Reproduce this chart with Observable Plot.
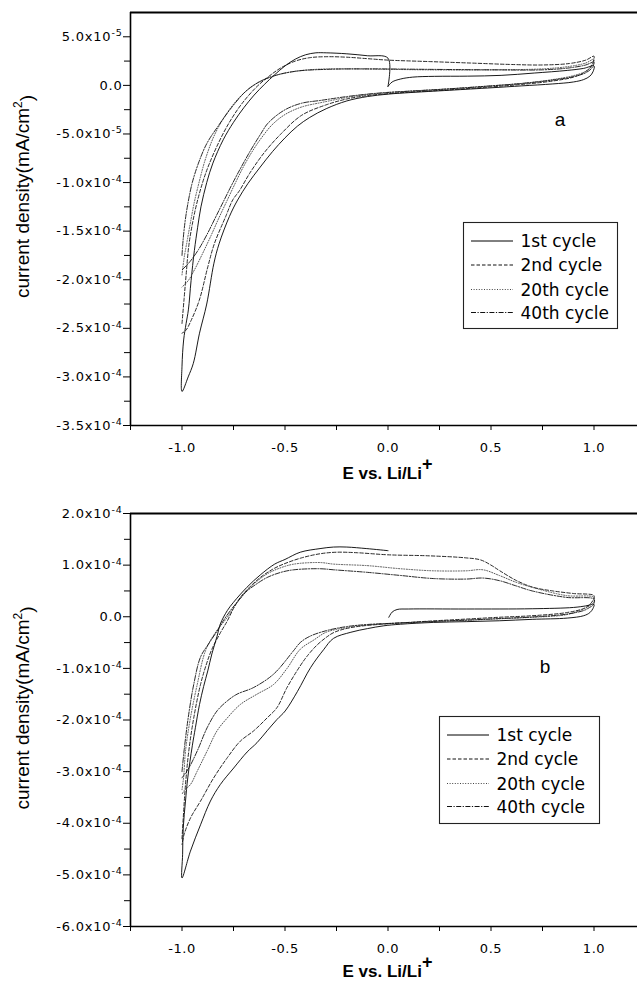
<!DOCTYPE html>
<html><head><meta charset="utf-8">
<script src="https://cdn.jsdelivr.net/npm/d3@7"></script>
<script src="https://cdn.jsdelivr.net/npm/@observablehq/plot@0.6"></script>
<style>
html,body{margin:0;padding:0;overflow:hidden;background:#fff;}
#page{position:relative;width:637px;height:983px;overflow:hidden;background:#fff;}
#page > svg{display:block;max-width:none !important;}
</style></head><body><div id="page"></div>
<script>
// ---------- data (current in units of 1e-5 mA/cm^2, potential in V vs Li/Li+) ----------
const E_DOMAIN = [-1.25, 1.25];
const E_TICKS = [-1.0, -0.5, 0.0, 0.5, 1.0];
const E_MINOR = [-1.25, -0.75, -0.25, 0.25, 0.75, 1.25];

const A_I_DOMAIN = [-35, 7.5];
const A_I_TICKS = [-35, -30, -25, -20, -15, -10, -5, 0, 5];
const A_I_MINOR = [-32.5, -27.5, -22.5, -17.5, -12.5, -7.5, -2.5, 2.5];

const B_I_DOMAIN = [-60, 20];
const B_I_TICKS = [-60, -50, -40, -30, -20, -10, 0, 10, 20];
const B_I_MINOR = [-55, -45, -35, -25, -15, -5, 5, 15];

const CYCLES = ["1st cycle", "2nd cycle", "20th cycle", "40th cycle"];

// panel a
const a_cycle1 = [[0.0,-0.1],[0.02,0.35],[0.06,0.65],[0.12,0.85],[0.225,0.93],[0.387,0.95],[0.549,1.03],[0.71,1.27],[0.87,1.54],[0.95,1.75],[1.0,2.0],
 [0.995,1.4],[0.98,0.95],[0.95,0.6],[0.9,0.35],[0.8,0.15],[0.65,-0.05],[0.5,-0.25],[0.3,-0.5],[0.1,-0.75],[0.0,-0.9],[-0.1,-1.15],[-0.2,-1.6],[-0.3,-2.4],[-0.38,-3.3],[-0.44,-4.2],[-0.5,-5.4],[-0.56,-6.8],[-0.62,-8.4],[-0.68,-10.1],[-0.73,-11.8],[-0.77,-13.5],[-0.82,-16.3],[-0.845,-18.3],[-0.88,-22.5],[-0.915,-25.5],[-0.945,-28.6],[-0.97,-30.0],[-1.0,-31.5],
 [-1.0,-28.9],[-0.992,-26.2],[-0.98,-24.5],[-0.969,-23.1],[-0.956,-20.1],[-0.94,-17.0],[-0.924,-14.6],[-0.908,-12.5],[-0.88,-10.0],[-0.85,-8.0],[-0.8,-5.6],[-0.75,-3.8],[-0.7,-2.3],[-0.65,-1.0],[-0.6,0.1],[-0.55,1.1],[-0.5,2.0],[-0.45,2.7],[-0.4,3.15],[-0.35,3.35],[-0.3,3.35],[-0.2,3.25],[-0.1,3.05],[0.0,2.8],[0.0,-0.1]];
const a_cycle2 = [[-1.0,-24.5],[-0.99,-22],[-0.98,-19.5],[-0.967,-16.5],[-0.95,-14.3],[-0.93,-12.3],[-0.9,-10],[-0.87,-8.2],[-0.82,-5.8],[-0.77,-3.8],[-0.71,-1.9],[-0.64,-0.2],[-0.58,0.9],[-0.52,1.8],[-0.45,2.5],[-0.38,2.85],[-0.3,2.95],[-0.2,2.9],[-0.1,2.75],[0.0,2.6],[0.2,2.45],[0.4,2.3],[0.6,2.15],[0.75,2.1],[0.88,2.25],[0.96,2.6],[1.0,3.0],
 [0.995,2.4],[0.98,1.8],[0.95,1.3],[0.9,0.85],[0.8,0.45],[0.65,0.1],[0.5,-0.15],[0.3,-0.45],[0.1,-0.7],[0.0,-0.85],[-0.1,-1.05],[-0.2,-1.4],[-0.3,-2.0],[-0.42,-3.09],[-0.52,-5.0],[-0.6,-6.9],[-0.67,-9.0],[-0.72,-10.8],[-0.754,-11.8],[-0.786,-13.4],[-0.843,-16.3],[-0.875,-18.7],[-0.916,-22.1],[-0.956,-24.2],[-0.981,-25.2],[-1.0,-25.5]];
const a_cycle20 = [[-1.0,-19.5],[-0.99,-17.8],[-0.975,-16.0],[-0.958,-14.0],[-0.94,-12.0],[-0.915,-9.8],[-0.885,-7.5],[-0.84,-5.0],[-0.78,-2.8],[-0.71,-1.0],[-0.63,0.3],[-0.55,1.0],[-0.45,1.45],[-0.35,1.65],[-0.2,1.7],[0.0,1.65],[0.2,1.6],[0.5,1.6],[0.75,1.7],[0.88,1.95],[0.96,2.3],[1.0,2.7],
 [0.99,2.0],[0.96,1.45],[0.9,1.0],[0.8,0.6],[0.65,0.2],[0.5,-0.05],[0.3,-0.35],[0.1,-0.6],[0.0,-0.75],[-0.1,-0.95],[-0.2,-1.25],[-0.32,-1.75],[-0.42,-2.23],[-0.5,-3.0],[-0.56,-4.0],[-0.6,-5.0],[-0.65,-6.5],[-0.7,-8.3],[-0.74,-10.0],[-0.78,-11.8],[-0.82,-13.6],[-0.86,-15.5],[-0.9,-17.3],[-0.94,-19.0],[-0.97,-20.1],[-1.0,-20.75]];
const a_cycle40 = [[-1.0,-17.5],[-0.995,-16],[-0.985,-14],[-0.97,-12],[-0.95,-10],[-0.92,-8],[-0.88,-6],[-0.825,-4.2],[-0.76,-2.3],[-0.69,-0.6],[-0.63,0.3],[-0.55,1.0],[-0.45,1.45],[-0.3,1.65],[-0.1,1.7],[0.2,1.65],[0.5,1.6],[0.75,1.6],[0.88,1.8],[0.96,2.1],[1.0,2.4],
 [0.99,1.8],[0.96,1.3],[0.9,0.9],[0.8,0.55],[0.65,0.2],[0.5,-0.05],[0.3,-0.35],[0.1,-0.6],[0.0,-0.72],[-0.1,-0.9],[-0.2,-1.15],[-0.325,-1.54],[-0.422,-1.85],[-0.505,-2.57],[-0.583,-3.9],[-0.617,-4.97],[-0.67,-6.8],[-0.72,-8.7],[-0.76,-10.3],[-0.8,-12.0],[-0.84,-13.7],[-0.88,-15.4],[-0.92,-16.9],[-0.96,-18.1],[-1.0,-19.0]];

// panel b
const b_cycle1 = [[0.004,-0.1],[0.02,0.9],[0.044,1.4],[0.1,1.5],[0.38,1.5],[0.7,1.55],[0.9,1.8],[0.96,2.1],[1.0,2.4],
 [0.995,1.6],[0.98,0.8],[0.95,0.2],[0.87,-0.26],[0.7,-0.5],[0.54,-0.78],[0.38,-0.95],[0.22,-1.1],[0.06,-1.45],[-0.02,-1.75],[-0.1,-2.3],[-0.18,-3.0],[-0.265,-4.2],[-0.313,-6.4],[-0.375,-9.8],[-0.44,-14.5],[-0.499,-18.25],[-0.539,-19.9],[-0.587,-22.1],[-0.636,-24.4],[-0.684,-26.2],[-0.749,-29.3],[-0.814,-32.5],[-0.862,-35.7],[-0.91,-40.3],[-0.959,-45.4],[-1.0,-50.6],
 [-0.997,-46],[-0.994,-40.9],[-0.983,-35.7],[-0.972,-31.2],[-0.95,-25],[-0.935,-21.5],[-0.915,-17],[-0.895,-13.5],[-0.875,-10.5],[-0.855,-7.2],[-0.83,-3.8],[-0.814,-1.4],[-0.78,1.2],[-0.75,2.8],[-0.685,5.7],[-0.62,8.1],[-0.55,10.2],[-0.5,11.1],[-0.426,12.5],[-0.33,13.2],[-0.265,13.5],[-0.2,13.5],[-0.103,13.2],[0.0,12.8]];
const b_cycle2 = [[-1.0,-43],[-0.994,-39.0],[-0.983,-32.5],[-0.967,-26.0],[-0.943,-19.6],[-0.91,-13.1],[-0.88,-9],[-0.855,-6.3],[-0.815,-3.2],[-0.78,-0.8],[-0.75,1.6],[-0.717,3.75],[-0.67,5.8],[-0.62,7.6],[-0.56,9.2],[-0.507,10.2],[-0.42,11.4],[-0.33,12.2],[-0.25,12.5],[-0.15,12.4],[0.0,12.0],[0.2,11.8],[0.38,11.4],[0.45,11.0],[0.5,10.0],[0.543,8.9],[0.624,7.0],[0.705,5.7],[0.8,5.0],[0.9,4.5],[1.0,4.1],
 [0.998,3.4],[0.98,2.4],[0.95,1.6],[0.866,0.8],[0.7,0.2],[0.54,-0.1],[0.38,-0.45],[0.22,-0.8],[0.1,-1.1],[-0.02,-1.4],[-0.18,-2.1],[-0.26,-3.0],[-0.3,-4.0],[-0.345,-5.5],[-0.39,-7.5],[-0.426,-9.5],[-0.49,-13.7],[-0.539,-17.6],[-0.587,-19.6],[-0.652,-22.1],[-0.717,-24.1],[-0.78,-27.3],[-0.846,-31.2],[-0.91,-35.7],[-0.959,-39.0],[-0.99,-42.2],[-1.0,-44.1]];
const b_cycle20 = [[-1.0,-33.5],[-0.992,-31],[-0.983,-26.0],[-0.959,-19.6],[-0.926,-13.1],[-0.886,-6.6],[-0.84,-3.2],[-0.78,-0.1],[-0.74,2.3],[-0.7,4.4],[-0.65,6.4],[-0.587,8.3],[-0.52,9.5],[-0.456,10.2],[-0.33,10.5],[-0.265,10.2],[-0.1,9.9],[0.06,9.3],[0.22,8.9],[0.38,8.9],[0.46,9.1],[0.54,8.0],[0.62,6.7],[0.7,5.7],[0.866,4.1],[1.0,3.75],
 [0.998,2.8],[0.97,1.9],[0.95,1.5],[0.866,0.4],[0.7,-0.1],[0.54,-0.4],[0.38,-0.7],[0.22,-0.95],[0.06,-1.25],[-0.1,-1.6],[-0.2,-2.1],[-0.3,-3.0],[-0.36,-4.5],[-0.426,-6.3],[-0.49,-10.0],[-0.555,-13.1],[-0.636,-15.0],[-0.717,-17.0],[-0.78,-19.6],[-0.83,-22.1],[-0.878,-26.0],[-0.926,-29.9],[-0.959,-32.5],[-0.99,-33.7],[-1.0,-34.4]];
const b_cycle40 = [[-1.0,-30],[-0.99,-26.0],[-0.97,-19.6],[-0.943,-13.1],[-0.91,-7.8],[-0.87,-5.2],[-0.83,-2.8],[-0.8,-0.8],[-0.765,1.2],[-0.72,3.4],[-0.684,5.0],[-0.64,6.3],[-0.587,7.6],[-0.52,8.6],[-0.456,9.1],[-0.33,9.3],[-0.265,9.1],[-0.1,8.6],[0.06,8.0],[0.22,7.4],[0.38,7.3],[0.46,7.5],[0.54,7.0],[0.62,6.0],[0.7,5.0],[0.866,3.75],[1.0,3.4],
 [0.998,2.4],[0.97,1.6],[0.95,1.2],[0.866,0.5],[0.7,-0.05],[0.54,-0.35],[0.38,-0.65],[0.22,-0.9],[0.06,-1.2],[-0.1,-1.5],[-0.2,-1.9],[-0.3,-2.7],[-0.38,-3.8],[-0.426,-5.0],[-0.459,-6.6],[-0.555,-11.1],[-0.652,-13.7],[-0.733,-15.0],[-0.78,-16.3],[-0.83,-18.25],[-0.878,-21.5],[-0.926,-26.0],[-0.967,-29.3],[-1.0,-31.2]];

// ---------- styles ----------
const DASHES = ["none", "3.5,2", "1,1.6", "5,1.5,1.2,1.5"];
const STROKES = ["#000", "#111", "#444", "#111"];

function sciLabel(v) {
  if (Math.abs(v) < 1e-9) return "0.0";
  const val = v * 1e-5;
  const e = Math.floor(Math.log10(Math.abs(val)) + 1e-9);
  const m = val / Math.pow(10, e);
  return m.toFixed(1) + "x10^" + e;
}

function makePanel(opts) {
  const {series, yDomain, yTicks, yMinor, height, marginTop, marginBottom, xLabelY, yLabelCY, letter, letterX, letterY} = opts;
  const lines = series.map((s, i) => Plot.line(s, {
    x: d => d[0], y: d => d[1], stroke: STROKES[i], strokeWidth: 0.9,
    strokeDasharray: DASHES[i], curve: "catmull-rom"
  }));
  const plot = Plot.plot({
    width: 646, height, marginLeft: 130, marginRight: 1, marginTop, marginBottom,
    x: {domain: E_DOMAIN}, y: {domain: yDomain},
    style: {fontFamily: "DejaVu Sans", fontSize: "13px", color: "#000", background: "transparent", overflow: "visible"},
    marks: [
      ...lines,
      Plot.axisX(E_TICKS, {tickSize: 5, tickPadding: 12, tickFormat: d => d.toFixed(1), label: null, fontSize: 13}),
      Plot.axisX(E_MINOR, {tickSize: 5, fill: "none", label: null}),
      Plot.axisY(yTicks, {tickSize: 7, tickPadding: 1, tickFormat: sciLabel, label: null, fontSize: 13}),
      Plot.axisY(yMinor, {tickSize: 6, fill: "none", label: null}),
      Plot.ruleX([E_DOMAIN[0]], {stroke: "#000", strokeWidth: 1.6}),
      Plot.ruleY([yDomain[0]], {stroke: "#000", strokeWidth: 1.6}),
      Plot.ruleY([yDomain[1]], {stroke: "#000", strokeWidth: 2.2})
    ]
  });
  plot.style.maxWidth = "none";
  plot.style.height = height + "px";
  const svg = d3.select(plot);
  svg.selectAll('g[aria-label="x-axis tick label"] text').style("letter-spacing", "0.6px");
  // superscript exponents on y tick labels
  svg.selectAll('g[aria-label="y-axis tick label"] text').each(function() {
    const s = this.textContent;
    const t = d3.select(this).style("letter-spacing", "0.8px");
    if (s.indexOf("^") < 0) return;
    const [base, exp] = s.split("^");
    t.text(null);
    t.append("tspan").text(base);
    t.append("tspan").attr("dy", "-0.5em").attr("font-size", "9.5px").text(exp);
  });
  const xs = plot.scale("x");
  // x axis title
  const xt = svg.append("text")
    .attr("x", xs.apply(0)).attr("y", xLabelY)
    .attr("text-anchor", "middle")
    .style("font-family", "'Liberation Sans', Arial, sans-serif")
    .style("font-weight", "bold").style("font-size", "17px").attr("fill", "#000");
  xt.append("tspan").text("E vs. Li/Li");
  xt.append("tspan").attr("dy", "-0.5em").style("font-size", "18px").text("+");
  // y axis title
  const yt = svg.append("text")
    .attr("transform", `translate(29,${yLabelCY}) rotate(-90)`)
    .attr("text-anchor", "middle")
    .style("font-family", "'Liberation Sans', Arial, sans-serif")
    .style("font-size", "19px").attr("fill", "#000");
  yt.append("tspan").text("current density(mA/cm");
  yt.append("tspan").attr("dy", "-0.55em").style("font-size", "12px").text("2");
  yt.append("tspan").attr("dy", "0.55em").text(")");
  // panel letter
  svg.append("text").attr("x", letterX).attr("y", letterY)
    .style("font-family", "'Liberation Sans', Arial, sans-serif").style("font-size", "19px")
    .attr("fill", "#000").text(letter);
  return plot;
}

function makeLegend(left, top, width, height) {
  const svg = d3.create("svg")
    .attr("width", width).attr("height", height)
    .style("position", "absolute").style("left", left + "px").style("top", top + "px")
    .style("overflow", "visible");
  svg.append("rect").attr("x", 0.5).attr("y", 0.5).attr("width", width - 1).attr("height", height - 1)
    .attr("fill", "#fff").attr("stroke", "#222").attr("stroke-width", 1.1);
  const rowY = [19, 43, 67.5, 90.5];
  CYCLES.forEach((name, i) => {
    svg.append("line").attr("x1", 8).attr("x2", 50).attr("y1", rowY[i]).attr("y2", rowY[i])
      .attr("stroke", STROKES[i]).attr("stroke-width", 1).attr("stroke-dasharray", DASHES[i]);
    svg.append("text").attr("x", 57.5).attr("y", rowY[i]).attr("dy", "0.36em")
      .style("font-family", "'DejaVu Sans', sans-serif").style("font-size", "17px")
      .attr("fill", "#000").text(name);
  });
  return svg.node();
}

const page = document.getElementById("page");
page.appendChild(makePanel({
  series: [a_cycle1, a_cycle2, a_cycle20, a_cycle40],
  yDomain: A_I_DOMAIN, yTicks: A_I_TICKS, yMinor: A_I_MINOR,
  height: 490, marginTop: 12, marginBottom: 65,
  xLabelY: 479, yLabelCY: 196.5, letter: "a", letterX: 560, letterY: 126
}));
page.appendChild(makePanel({
  series: [b_cycle1, b_cycle2, b_cycle20, b_cycle40],
  yDomain: B_I_DOMAIN, yTicks: B_I_TICKS, yMinor: B_I_MINOR,
  height: 493, marginTop: 23, marginBottom: 57,
  xLabelY: 487, yLabelCY: 218, letter: "b", letterX: 545, letterY: 183
}));
page.appendChild(makeLegend(462.5, 222, 155, 107));
page.appendChild(makeLegend(439, 716, 161, 108));
</script></body></html>
